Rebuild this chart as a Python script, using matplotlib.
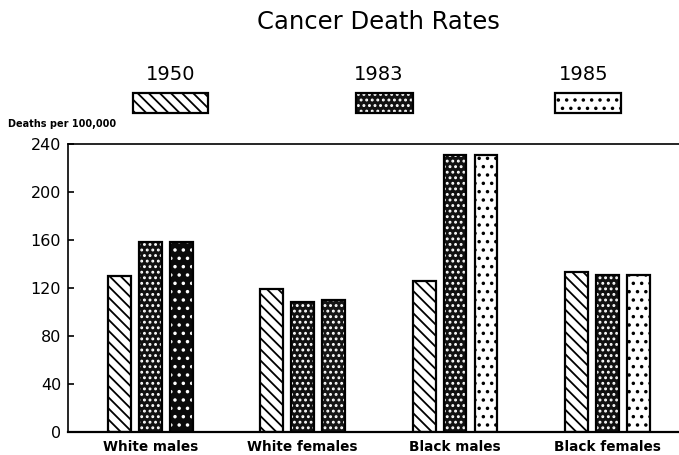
import matplotlib
matplotlib.use("Agg")
import matplotlib.pyplot as plt
import numpy as np
from matplotlib.patches import Rectangle

plt.rcParams['font.family'] = ['DejaVu Sans']
plt.rcParams['hatch.linewidth'] = 1.3

title = "Cancer Death Rates"
ylabel = "Deaths per 100,000"
categories = ["White males", "White females", "Black males", "Black females"]
years = ["1950", "1983", "1985"]
rates_1950 = [130, 119, 126, 133]
rates_1983 = [158, 108, 231, 131]
rates_1985 = [158, 110, 231, 131]
yticks = [0, 40, 80, 120, 160, 200, 240]

W, H = 679, 455
fig = plt.figure(figsize=(W / 100, H / 100), dpi=100)
ax = fig.add_axes([68 / W, 23 / H, 611 / W, 288 / H])

x = np.arange(len(categories))
width = 0.15
off = 0.203

DIAG = "\\\\\\"
style_1950 = dict(face="white", hatch=DIAG, hcol="black")
style_1983 = dict(face="#111111", hatch="...", hcol="white")
faces_1985 = ["#0a0a0a", "#151515", "white", "white"]
hcols_1985 = ["white", "white", "black", "black"]
hatch_1985 = ["..", "...", "..", ".."]


def draw(pos, vals, faces, hatches, hcols):
    for p, v, f, h, hc in zip(pos, vals, faces, hatches, hcols):
        ax.bar(p, v, width, color=f, edgecolor=hc, hatch=h, linewidth=0, zorder=2)
        ax.bar(p, v, width, fill=False, edgecolor="black", linewidth=1.6, zorder=3)


n = len(categories)
draw(x - off, rates_1950, [style_1950["face"]] * n, [style_1950["hatch"]] * n, [style_1950["hcol"]] * n)
draw(x, rates_1983, [style_1983["face"]] * n, [style_1983["hatch"]] * n, [style_1983["hcol"]] * n)
draw(x + off, rates_1985, faces_1985, hatch_1985, hcols_1985)

ax.set_xlim(-0.54, 3.47)
ax.set_ylim(0, 240)
ax.set_yticks(yticks)
ax.set_yticklabels([str(t) for t in yticks], fontsize=11.5)
ax.set_xticks(x)
ax.set_xticklabels(categories, fontsize=9.8, fontweight="bold")
ax.tick_params(axis="x", length=0, pad=6)
ax.tick_params(axis="y", direction="in", length=4, width=1.2, pad=5)
ax.spines["right"].set_visible(False)
ax.spines["top"].set_linewidth(1.2)
ax.spines["left"].set_linewidth(1.2)
ax.spines["bottom"].set_linewidth(1.6)

fig.text(378 / W, 1 - 22 / H, title, ha="center", va="center", fontsize=17.5)
fig.text(8 / W, 1 - 124 / H, ylabel, ha="left", va="center", fontsize=7, fontweight="bold")

leg = [
    (years[0], 133, 208, 171, "white", DIAG, "black"),
    (years[1], 356, 413, 379, "#111111", "...", "white"),
    (years[2], 555, 621, 584, "white", "..", "black"),
]
for lab, x0, x1, tx, f, h, hc in leg:
    fig.text(tx / W, 1 - 75 / H, lab, ha="center", va="center", fontsize=14)
    r = Rectangle((x0 / W, 1 - 113 / H), (x1 - x0) / W, 20 / H, transform=fig.transFigure,
                  facecolor=f, edgecolor=hc, hatch=h, linewidth=0)
    fig.patches.append(r)
    r2 = Rectangle((x0 / W, 1 - 113 / H), (x1 - x0) / W, 20 / H, transform=fig.transFigure,
                   fill=False, edgecolor="black", linewidth=1.6)
    fig.patches.append(r2)

fig.savefig("out.png", dpi=100)
